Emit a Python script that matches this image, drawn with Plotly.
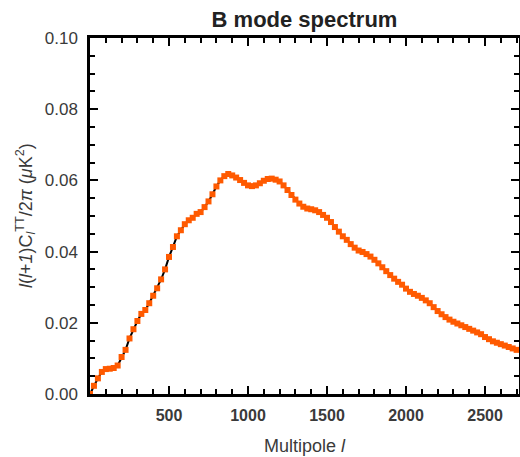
import plotly.graph_objects as go

ell = list(range(0, 2701, 25))
dl_bb = [
    0.0000, 0.0023, 0.0044, 0.0062, 0.0070, 0.0071, 0.0073, 0.0080, 0.0104, 0.0124,
    0.0156, 0.0182, 0.0205, 0.0225, 0.0236, 0.0255, 0.0276, 0.0297, 0.0322, 0.0350,
    0.0385, 0.0413, 0.0443, 0.0460, 0.0477, 0.0488, 0.0495, 0.0506, 0.0511, 0.0525,
    0.0541, 0.0561, 0.0583, 0.0600, 0.0612, 0.0618, 0.0614, 0.0608, 0.0601, 0.0593,
    0.0586, 0.0584, 0.0586, 0.0592, 0.0599, 0.0604, 0.0605, 0.0602, 0.0597, 0.0586,
    0.0573, 0.0559, 0.0546, 0.0535, 0.0526, 0.0521, 0.0519, 0.0516, 0.0511, 0.0503,
    0.0495, 0.0483, 0.0469, 0.0456, 0.0443, 0.0433, 0.0421, 0.0411, 0.0403, 0.0399,
    0.0393, 0.0386, 0.0377, 0.0367, 0.0356, 0.0345, 0.0334, 0.0324, 0.0315, 0.0307,
    0.0296, 0.0287, 0.0281, 0.0276, 0.0270, 0.0263, 0.0255, 0.0244, 0.0233, 0.0224,
    0.0216, 0.0209, 0.0203, 0.0198, 0.0193, 0.0188, 0.0183, 0.0178, 0.0173, 0.0168,
    0.0160, 0.0154, 0.0148, 0.0144, 0.0140, 0.0136, 0.0132, 0.0128, 0.0124,
]
x_ticks = [500, 1000, 1500, 2000, 2500]
y_ticks = [0.00, 0.02, 0.04, 0.06, 0.08, 0.10]

FONT = "Liberation Sans, Arial, Helvetica, sans-serif"
GREY = "#3a3a3a"

fig = go.Figure()
fig.add_trace(go.Scatter(x=ell, y=dl_bb, mode="lines",
                         line=dict(color="black", width=2), showlegend=False,
                         hoverinfo="skip"))
fig.add_trace(go.Scatter(x=ell, y=dl_bb, mode="markers",
                         marker=dict(symbol="square", size=6, color="#ff5a00",
                                     line=dict(width=0)),
                         showlegend=False))

fig.update_layout(
    width=520, height=457,
    margin=dict(l=90, r=1, t=38, b=63, autoexpand=False),
    paper_bgcolor="white", plot_bgcolor="white",
    font=dict(family=FONT, color=GREY),
    title=dict(text="<b>B mode spectrum</b>", x=304.5 / 520, xanchor="center",
               y=1 - 19 / 457, yanchor="middle", font=dict(size=22, color="#222")),
    annotations=[
        dict(text="Multipole <i>l</i>", xref="paper", yref="paper",
             x=0.5, y=-52 / 356, xanchor="center", yanchor="middle",
             showarrow=False, font=dict(size=18, color=GREY)),
        dict(text="<i>l</i>(<i>l</i>+<i>1</i>)C<sub><i>l</i></sub><sup>TT</sup>/2<i>π</i> (<i>μ</i>K<sup>2</sup>)",
             xref="paper", yref="paper", x=-65 / 429, y=0.5,
             xanchor="center", yanchor="middle", textangle=-90,
             showarrow=False, font=dict(size=18, color=GREY)),
    ],
)
fig.update_xaxes(
    range=[0, 2715], tickvals=x_ticks, ticktext=[f"<b>{v}</b>" for v in x_ticks],
    ticks="inside", ticklen=8, tickwidth=2, tickcolor="black",
    showline=True, linewidth=2.5, linecolor="black", mirror="ticks",
    showgrid=False, zeroline=False, automargin=False,
    tickfont=dict(size=16, color=GREY), ticklabelstandoff=5,
    minor=dict(ticks="inside", dtick=100, tick0=0, ticklen=5, tickwidth=2,
               tickcolor="black", showgrid=False),
)
fig.update_yaxes(
    range=[0, 0.1], tickvals=y_ticks, tickformat=".2f",
    ticks="inside", ticklen=8, tickwidth=2, tickcolor="black",
    showline=True, linewidth=2.5, linecolor="black", mirror="ticks",
    showgrid=False, zeroline=False, automargin=False,
    tickfont=dict(size=17, color=GREY), ticklabelstandoff=6,
    minor=dict(ticks="inside", dtick=0.005, tick0=0, ticklen=5, tickwidth=2,
               tickcolor="black", showgrid=False),
)

fig.write_html(
    "out.html",
    config={"displayModeBar": False},
    post_script="document.body.style.margin='0';document.body.style.overflow='hidden';",
)
